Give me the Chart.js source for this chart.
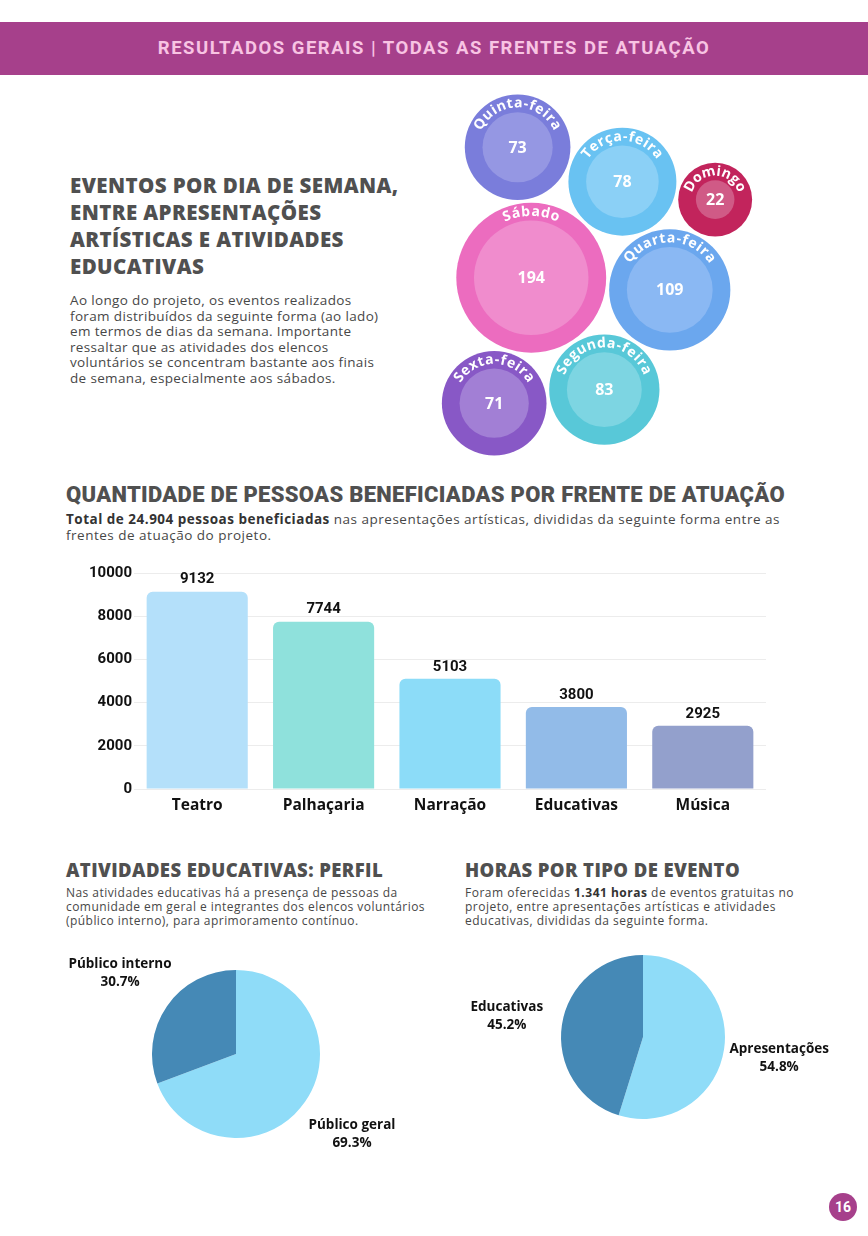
<!DOCTYPE html>
<html lang="pt-BR">
<head>
<meta charset="utf-8">
<title>Resultados gerais</title>
<script src="https://cdn.jsdelivr.net/npm/chart.js@4.4.1/dist/chart.umd.min.js"></script>
<style>
  html, body { margin:0; padding:0; background:#fff; }
  body { width:868px; height:1236px; position:relative; overflow:hidden; font-family:'Open Sans', sans-serif; color:#4a4a4a; }
  .band { position:absolute; left:0; top:22px; width:868px; height:53px; background:#a6408b; color:#f8c4e3;
          font-family:Roboto, sans-serif; font-weight:700; font-size:18.5px; letter-spacing:1.5px; text-align:center; line-height:53px; }
  .abs { position:absolute; }
  .h { font-weight:800; color:#505050; white-space:nowrap; }
  .p { color:#474747; white-space:nowrap; }
  canvas { display:block; }
  .page { position:absolute; left:829px; top:1193px; width:28px; height:28px; border-radius:50%; background:#a6408b;
          color:#fff; font-family:Roboto, sans-serif; font-weight:700; font-size:14px; line-height:28px; text-align:center; }
</style>
</head>
<body>
<div class="band">RESULTADOS GERAIS | TODAS AS FRENTES DE ATUAÇÃO</div>

<div class="abs h" style="left:70px; top:172px; font-size:20.5px; line-height:27px; letter-spacing:0.4px;">
EVENTOS POR DIA DE SEMANA,<br>ENTRE APRESENTAÇÕES<br>ARTÍSTICAS E ATIVIDADES<br>EDUCATIVAS</div>
<div class="abs p" style="left:70px; top:293px; font-size:13.5px; line-height:15.6px; letter-spacing:0.35px;">
Ao longo do projeto, os eventos realizados<br>foram distribuídos da seguinte forma (ao lado)<br>em termos de dias da semana. Importante<br>ressaltar que as atividades dos elencos<br>voluntários se concentram bastante aos finais<br>de semana, especialmente aos sábados.</div>

<div class="abs" style="left:427px; top:85px;"><canvas id="bubbles" width="340" height="380"></canvas></div>

<div class="abs h" style="left:66px; top:481px; font-size:22px; line-height:28px; font-family:Roboto, sans-serif; font-weight:900; letter-spacing:0.3px;">QUANTIDADE DE PESSOAS BENEFICIADAS POR FRENTE DE ATUAÇÃO</div>
<div class="abs p" style="left:66px; top:511px; font-size:13.5px; line-height:16px; letter-spacing:0.5px;">
<b style="color:#333">Total de 24.904 pessoas beneficiadas</b> nas apresentações artísticas, divididas da seguinte forma entre as<br>frentes de atuação do projeto.</div>

<div class="abs" style="left:70px; top:560px;"><canvas id="bar" width="710" height="260"></canvas></div>

<div class="abs h" style="left:66px; top:858px; font-size:18.5px; line-height:24px; letter-spacing:0.4px;">ATIVIDADES EDUCATIVAS: PERFIL</div>
<div class="abs p" style="left:66px; top:886px; font-size:12px; line-height:14px; letter-spacing:0.45px;">
Nas atividades educativas há a presença de pessoas da<br>comunidade em geral e integrantes dos elencos voluntários<br>(público interno), para aprimoramento contínuo.</div>

<div class="abs h" style="left:465px; top:858px; font-size:18.5px; line-height:24px; letter-spacing:0.4px;">HORAS POR TIPO DE EVENTO</div>
<div class="abs p" style="left:465px; top:886px; font-size:12px; line-height:14px; letter-spacing:0.5px;">
Foram oferecidas <b style="color:#333">1.341 horas</b> de eventos gratuitas no<br>projeto, entre apresentações artísticas e atividades<br>educativas, divididas da seguinte forma.</div>

<div class="abs" style="left:40px; top:914px;"><canvas id="pieProfile" width="392" height="280"></canvas></div>
<div class="abs" style="left:443px; top:897px;"><canvas id="pieHours" width="400" height="280"></canvas></div>

<div class="page">16</div>

<script>
// dados
const days = ['Segunda-feira','Terça-feira','Quarta-feira','Quinta-feira','Sexta-feira','Sábado','Domingo'];
const eventsPerDay = [83, 78, 109, 73, 71, 194, 22];

const fronts = ['Teatro','Palhaçaria','Narração','Educativas','Música'];
const peopleByFront = [9132, 7744, 5103, 3800, 2925];

const profileLabels = ['Público geral','Público interno'];
const profileShare = [69.3, 30.7];

const hoursLabels = ['Apresentações','Educativas'];
const hoursShare = [54.8, 45.2];

// estilo
const dayOuter = ['#58c8d8','#69c2f2','#6ba7ee','#7a7ddb','#8858c6','#ec6cbf','#c2245c'];
const dayInner = ['#7dd5e2','#8bd0f6','#8ab8f3','#9597e3','#a27fd5','#f08ccd','#d05a86'];
const frontColors = ['#b4e0fa','#8fe1dc','#8cdcf8','#92bbe8','#93a0cc'];
const pieColors = ['#8fdcf8','#4589b6'];

// layout das bolhas: cada bolha encosta em duas já posicionadas
const ring = 17.7, gap = 3.5;
const innerR = v => 4.11 * Math.sqrt(v);
const outerR = v => innerR(v) + ring;
const idx = name => days.indexOf(name);
const packSteps = [
  ['Terça-feira', 'Sábado', 'Quarta-feira', -1],
  ['Segunda-feira', 'Sábado', 'Quarta-feira', 1],
  ['Quinta-feira', 'Sábado', 'Terça-feira', -1],
  ['Sexta-feira', 'Sábado', 'Segunda-feira', 1],
  ['Domingo', 'Terça-feira', 'Quarta-feira', -1]
];

function packBubbles() {
  const pos = {};
  const r = i => outerR(eventsPerDay[i]);
  const s = idx('Sábado'), q = idx('Quarta-feira');
  pos[s] = {x:0, y:0};
  const d0 = r(s) + r(q) + gap, a0 = 5 * Math.PI / 180;
  pos[q] = {x:d0 * Math.cos(a0), y:d0 * Math.sin(a0)};
  packSteps.forEach(([name, an, bn, side]) => {
    const i = idx(name), A = pos[idx(an)], B = pos[idx(bn)];
    const dA = r(idx(an)) + r(i) + gap, dB = r(idx(bn)) + r(i) + gap;
    const dx = B.x - A.x, dy = B.y - A.y, d = Math.hypot(dx, dy);
    const a = (dA * dA - dB * dB + d * d) / (2 * d);
    const h = Math.sqrt(Math.max(dA * dA - a * a, 0));
    const ux = dx / d, uy = dy / d;
    pos[i] = {x:A.x + a * ux - side * h * uy, y:A.y + a * uy + side * h * ux};
  });
  return days.map((dname, i) => ({x:pos[i].x, y:pos[i].y, r:outerR(eventsPerDay[i])}));
}

const bubblePoints = packBubbles();
let bx0 = Infinity, bx1 = -Infinity, by0 = Infinity, by1 = -Infinity;
bubblePoints.forEach(p => {
  bx0 = Math.min(bx0, p.x - p.r); bx1 = Math.max(bx1, p.x + p.r);
  by0 = Math.min(by0, p.y - p.r); by1 = Math.max(by1, p.y + p.r);
});
const bcx = (bx0 + bx1) / 2, bcy = (by0 + by1) / 2;

function drawArcText(ctx, text, cx, cy, radius, spacing) {
  const chars = [...text];
  const widths = chars.map(ch => ctx.measureText(ch).width);
  const total = widths.reduce((a, b) => a + b, 0) + spacing * (chars.length - 1);
  let angle = -Math.PI / 2 - total / radius / 2;
  chars.forEach((ch, i) => {
    const a = angle + widths[i] / 2 / radius;
    ctx.save();
    ctx.translate(cx + radius * Math.cos(a), cy + radius * Math.sin(a));
    ctx.rotate(a + Math.PI / 2);
    ctx.fillText(ch, 0, 0);
    ctx.restore();
    angle += (widths[i] + spacing) / radius;
  });
}

const bubbleDecor = {
  id:'bubbleDecor',
  afterDatasetsDraw(chart) {
    const {ctx} = chart;
    const meta = chart.getDatasetMeta(0);
    ctx.save();
    meta.data.forEach((pt, i) => {
      const v = eventsPerDay[i];
      const ro = outerR(v);
      ctx.beginPath();
      ctx.arc(pt.x, pt.y, innerR(v), 0, Math.PI * 2);
      ctx.fillStyle = dayInner[i];
      ctx.fill();
      ctx.fillStyle = '#fff';
      ctx.textAlign = 'center';
      ctx.textBaseline = 'middle';
      ctx.font = 'bold 14px "Open Sans", sans-serif';
      drawArcText(ctx, days[i], pt.x, pt.y, ro - 9, 1.3);
      ctx.font = 'bold 16px "Open Sans", sans-serif';
      ctx.fillText(String(v), pt.x, pt.y + 1);
    });
    ctx.restore();
  }
};

new Chart(document.getElementById('bubbles'), {
  type:'bubble',
  data:{ datasets:[{ data:bubblePoints, backgroundColor:dayOuter, borderWidth:0, hoverBorderWidth:0, clip:false }] },
  options:{
    responsive:false, animation:false, events:[],
    layout:{ padding:0, autoPadding:false },
    plugins:{ legend:{display:false}, tooltip:{enabled:false} },
    scales:{
      x:{ display:false, min:bcx - 170, max:bcx + 170 },
      y:{ display:false, reverse:true, min:bcy - 190, max:bcy + 190 }
    }
  },
  plugins:[bubbleDecor]
});

const barValues = {
  id:'barValues',
  afterDatasetsDraw(chart) {
    const {ctx} = chart;
    ctx.save();
    ctx.font = 'bold 15px Roboto, sans-serif';
    ctx.fillStyle = '#111';
    ctx.textAlign = 'center';
    ctx.textBaseline = 'middle';
    chart.getDatasetMeta(0).data.forEach((bar, i) => ctx.fillText(String(peopleByFront[i]), bar.x, bar.y - 12));
    ctx.restore();
  }
};

new Chart(document.getElementById('bar'), {
  type:'bar',
  data:{
    labels:fronts,
    datasets:[{ data:peopleByFront, backgroundColor:frontColors, borderRadius:{topLeft:6, topRight:6}, borderSkipped:'bottom',
                categoryPercentage:1, barPercentage:0.8 }]
  },
  options:{
    responsive:false, animation:false, events:[],
    layout:{ padding:{top:13, right:14, left:0, bottom:0} },
    plugins:{ legend:{display:false}, tooltip:{enabled:false} },
    scales:{
      x:{ grid:{display:false, drawTicks:false}, border:{display:false},
          ticks:{ color:'#111', font:{family:'Open Sans', weight:'bold', size:15.5}, padding:7 },
          afterFit(s) { s.height = 31; } },
      y:{ min:0, max:10000, border:{display:false},
          grid:{ color:'#ececec', drawTicks:false },
          ticks:{ stepSize:2000, color:'#111', font:{family:'Roboto', weight:'bold', size:15}, padding:2,
                  callback:v => String(v) },
          afterFit(s) { s.width = 64; } }
    }
  },
  plugins:[barValues]
});

function pieLabels(labels, values) {
  return {
    id:'pieLabels',
    afterDatasetsDraw(chart) {
      const {ctx} = chart;
      ctx.save();
      ctx.font = 'bold 13.5px "Open Sans", sans-serif';
      ctx.fillStyle = '#111';
      ctx.textAlign = 'center';
      ctx.textBaseline = 'middle';
      chart.getDatasetMeta(0).data.forEach((arc, i) => {
        const mid = (arc.startAngle + arc.endAngle) / 2;
        const d = arc.outerRadius * 1.68;
        const x = arc.x + d * Math.cos(mid), y = arc.y + d * Math.sin(mid);
        ctx.fillText(labels[i], x, y - 9);
        ctx.fillText(values[i].toFixed(1) + '%', x, y + 9);
      });
      ctx.restore();
    }
  };
}

function makePie(id, labels, values, radius) {
  return new Chart(document.getElementById(id), {
    type:'pie',
    data:{ labels, datasets:[{ data:values, backgroundColor:pieColors, borderWidth:0, radius }] },
    options:{
      responsive:false, animation:false, events:[],
      layout:{ padding:0 },
      plugins:{ legend:{display:false}, tooltip:{enabled:false} }
    },
    plugins:[pieLabels(labels, values)]
  });
}

makePie('pieProfile', profileLabels, profileShare, 84);
makePie('pieHours', hoursLabels, hoursShare, 82);
</script>
</body>
</html>
